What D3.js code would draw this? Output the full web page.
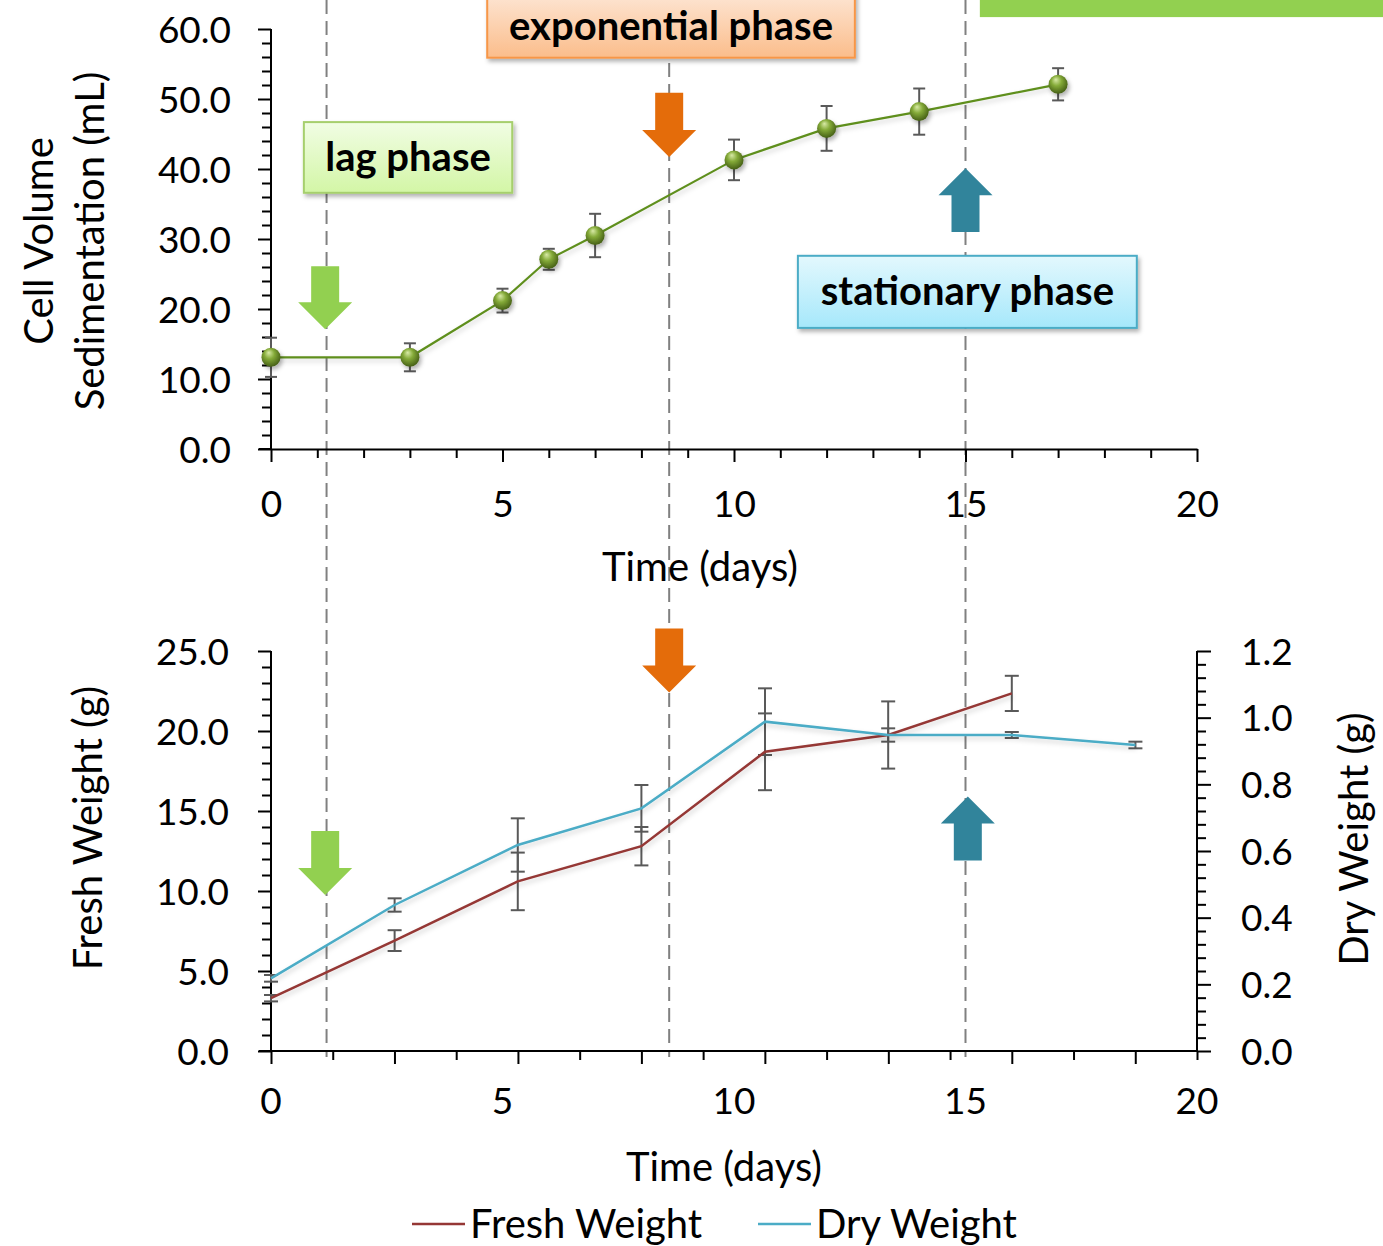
<!DOCTYPE html>
<html>
<head>
<meta charset="utf-8">
<script src="https://cdn.jsdelivr.net/npm/d3@7"></script>
<style>
  body { margin: 0; background: #fff; }
  svg text { font-family: Lato, "Open Sans", sans-serif; fill: #000; }
</style>
</head>
<body>
<div id="chart"></div>
<script>
// ---- data ----
// top panel: cell volume sedimentation
const cvsDays = [0, 3, 5, 6, 7, 10, 12, 14, 17];
const cvsMean = [13.1, 13.1, 21.2, 27.1, 30.5, 41.3, 45.8, 48.2, 52.1];
const cvsErr  = [2.8, 2.0, 1.7, 1.5, 3.1, 2.9, 3.2, 3.3, 2.3];

// bottom panel: fresh / dry weight
const weightDays = [0, 2.67, 5.33, 8, 10.67, 13.33, 16, 18.67];
const freshMean = [3.3, 6.9, 10.6, 12.8, 18.7, 19.75, 22.35];
const freshErr  = [0.2, 0.65, 1.8, 1.2, 2.4, 2.1, 1.1];
const dryMean = [0.218, 0.438, 0.618, 0.728, 0.988, 0.948, 0.948, 0.918];
const dryErr  = [0.01, 0.02, 0.08, 0.07, 0.1, 0.02, 0.009, 0.01];

const xTickLabels = [0, 5, 10, 15, 20];
const phaseBounds = [1.2, 8.6, 15.0];

// ---- layout ----
const W = 1383, H = 1246;
const tickFont = 37, titleFont = 40;
const svg = d3.select("#chart").append("svg")
  .attr("width", W).attr("height", H);

const defs = svg.append("defs");
const shadow = defs.append("filter").attr("id", "shadow")
  .attr("x", "-20%").attr("y", "-20%").attr("width", "150%").attr("height", "160%");
shadow.append("feDropShadow").attr("dx", 2).attr("dy", 3)
  .attr("stdDeviation", 2).attr("flood-color", "#000").attr("flood-opacity", 0.3);
const lineShadow = defs.append("filter").attr("id", "lineShadow")
  .attr("x", "-10%").attr("y", "-30%").attr("width", "120%").attr("height", "160%");
lineShadow.append("feDropShadow").attr("dx", 1).attr("dy", 3)
  .attr("stdDeviation", 2.5).attr("flood-color", "#000").attr("flood-opacity", 0.18);

const ball = defs.append("radialGradient").attr("id", "ball")
  .attr("cx", "45%").attr("cy", "40%").attr("r", "60%").attr("fx", "38%").attr("fy", "25%");
ball.append("stop").attr("offset", "0%").attr("stop-color", "#d8eaa6");
ball.append("stop").attr("offset", "45%").attr("stop-color", "#84aa38");
ball.append("stop").attr("offset", "100%").attr("stop-color", "#455f16");

function vgrad(id, top, bottom) {
  const g = defs.append("linearGradient").attr("id", id)
    .attr("x1", 0).attr("y1", 0).attr("x2", 0).attr("y2", 1);
  g.append("stop").attr("offset", "0%").attr("stop-color", top);
  g.append("stop").attr("offset", "100%").attr("stop-color", bottom);
}
vgrad("gLag", "#f1fde4", "#d3f6a6");
vgrad("gExp", "#fde9da", "#fbbd8b");
vgrad("gSta", "#e3f8fd", "#a6e8fb");

// scales
const x = d3.scaleLinear().domain([0, 20]).range([271, 1197]);
const yTop = d3.scaleLinear().domain([0, 60]).range([449, 29]);
const yFresh = d3.scaleLinear().domain([0, 25]).range([1051, 651]);
const yDry = d3.scaleLinear().domain([0, 1.2]).range([1051, 651]);

const fmt1 = d3.format(".1f");

// ---- phase separator lines (span both panels) ----
svg.append("g").selectAll("line")
  .data(phaseBounds)
  .join("line")
    .attr("x1", d => x(d)).attr("x2", d => x(d))
    .attr("y1", 0).attr("y2", 1057)
    .attr("stroke", "#808080").attr("stroke-width", 2)
    .attr("stroke-dasharray", "14,7");

// ---- axes helpers ----
function styleAxis(g) {
  g.selectAll("path.domain").attr("stroke", "#000").attr("stroke-width", 2);
  g.selectAll(".tick line").attr("stroke", "#000").attr("stroke-width", 2);
  g.selectAll(".tick text").attr("font-size", tickFont).attr("font-family", "Lato");
}

// top x axis
const topX = svg.append("g").attr("transform", `translate(0,${yTop(0)})`)
  .call(d3.axisBottom(x).tickValues(d3.range(0, 21)).tickSizeOuter(0)
    .tickFormat(d => d % 5 === 0 ? d : ""));
styleAxis(topX);
topX.selectAll(".tick line").attr("y2", d => d % 5 === 0 ? 13 : 9);
topX.selectAll(".tick text").attr("y", 68).attr("dy", null);

// top y axis
const topY = svg.append("g").attr("transform", `translate(${x(0)},0)`)
  .call(d3.axisLeft(yTop).tickValues(d3.range(0, 61, 2)).tickSizeOuter(0)
    .tickFormat(d => d % 10 === 0 ? fmt1(d) : ""));
styleAxis(topY);
topY.selectAll(".tick line").attr("x2", d => d % 10 === 0 ? -13 : -9);
topY.selectAll(".tick text").attr("x", -40).attr("dy", "0.36em");
topY.select("path.domain").attr("d", `M0,${yTop(60)}V${yTop(0)}H-12`);

// bottom x axis: ticks every 4/3 day, labels at 0,5,...,20
const botTicks = d3.range(0, 16).map(i => i * 4 / 3);
const botX = svg.append("g").attr("transform", `translate(0,${yFresh(0)})`)
  .call(d3.axisBottom(x).tickValues(botTicks).tickSizeOuter(0).tickFormat(""));
styleAxis(botX);
botX.selectAll(".tick line").attr("y2", (d, i) => i % 2 === 0 ? 13 : 9);
botX.select("path.domain").attr("d", `M${x(0)},0H${x(20)}`);
svg.append("g").selectAll("text")
  .data(xTickLabels)
  .join("text")
    .attr("x", d => x(d))
    .attr("y", yFresh(0) + 63)
    .attr("text-anchor", "middle")
    .attr("font-size", tickFont)
    .text(d => d);

// bottom left y axis
const botY = svg.append("g").attr("transform", `translate(${x(0)},0)`)
  .call(d3.axisLeft(yFresh).tickValues(d3.range(0, 26, 1)).tickSizeOuter(0)
    .tickFormat(d => d % 5 === 0 ? fmt1(d) : ""));
styleAxis(botY);
botY.selectAll(".tick line").attr("x2", d => d % 5 === 0 ? -13 : -9);
botY.selectAll(".tick text").attr("x", -42).attr("dy", "0.36em");
botY.select("path.domain").attr("d", `M0,${yFresh(25)}V${yFresh(0)}H-12`);

// bottom right y axis
const dryTicks = d3.range(0, 31).map(i => i * 0.04);
const botY2 = svg.append("g").attr("transform", `translate(${x(20)},0)`)
  .call(d3.axisRight(yDry).tickValues(dryTicks).tickSizeOuter(0)
    .tickFormat((d, i) => i % 5 === 0 ? fmt1(d) : ""));
styleAxis(botY2);
botY2.selectAll(".tick line").attr("x2", (d, i) => i % 5 === 0 ? 14 : 9);
botY2.selectAll(".tick text").attr("x", 44).attr("dy", "0.36em");
botY2.select("path.domain").attr("d", `M0,${yDry(1.2)}V${yDry(0)}`);

// ---- axis titles ----
svg.append("text").attr("x", 700).attr("y", 581).attr("text-anchor", "middle")
  .attr("font-size", titleFont).text("Time (days)");
svg.append("text").attr("x", 724).attr("y", 1181).attr("text-anchor", "middle")
  .attr("font-size", titleFont).text("Time (days)");
svg.append("text").attr("transform", "translate(53,241) rotate(-90)")
  .attr("text-anchor", "middle").attr("font-size", titleFont).text("Cell Volume");
svg.append("text").attr("transform", "translate(104,241) rotate(-90)")
  .attr("text-anchor", "middle").attr("font-size", titleFont).text("Sedimentation (mL)");
svg.append("text").attr("transform", "translate(102,828) rotate(-90)")
  .attr("text-anchor", "middle").attr("font-size", titleFont).text("Fresh Weight (g)");
svg.append("text").attr("transform", "translate(1368,839) rotate(-90)")
  .attr("text-anchor", "middle").attr("font-size", titleFont).text("Dry Weight (g)");

// ---- top panel series ----
const cvs = cvsDays.map((d, i) => ({ day: d, v: cvsMean[i], e: cvsErr[i] }));
const errColor = "#595959";

svg.append("path").datum(cvs)
  .attr("d", d3.line().x(d => x(d.day)).y(d => yTop(d.v)))
  .attr("fill", "none").attr("stroke", "#5f8f1e").attr("stroke-width", 2.2)
  .attr("filter", "url(#lineShadow)");

function errorBars(data, xs, ys, cap) {
  const g = svg.append("g").attr("stroke", errColor).attr("stroke-width", 2);
  g.selectAll("line.v").data(data).join("line").attr("class", "v")
    .attr("x1", d => xs(d.day)).attr("x2", d => xs(d.day))
    .attr("y1", d => ys(d.v + d.e)).attr("y2", d => ys(d.v - d.e));
  g.selectAll("line.t").data(data).join("line").attr("class", "t")
    .attr("x1", d => xs(d.day) - cap).attr("x2", d => xs(d.day) + cap)
    .attr("y1", d => ys(d.v + d.e)).attr("y2", d => ys(d.v + d.e));
  g.selectAll("line.b").data(data).join("line").attr("class", "b")
    .attr("x1", d => xs(d.day) - cap).attr("x2", d => xs(d.day) + cap)
    .attr("y1", d => ys(d.v - d.e)).attr("y2", d => ys(d.v - d.e));
}
errorBars(cvs, x, yTop, 6);

svg.append("g").selectAll("circle").data(cvs).join("circle")
  .attr("cx", d => x(d.day)).attr("cy", d => yTop(d.v)).attr("r", 9.5)
  .attr("fill", "url(#ball)").attr("filter", "url(#shadow)");

// ---- bottom panel series ----
const fresh = freshMean.map((v, i) => ({ day: weightDays[i], v: v, e: freshErr[i] }));
const dry = dryMean.map((v, i) => ({ day: weightDays[i], v: v, e: dryErr[i] }));

errorBars(fresh, x, yFresh, 7);
errorBars(dry, x, yDry, 7);

svg.append("path").datum(fresh)
  .attr("d", d3.line().x(d => x(d.day)).y(d => yFresh(d.v)))
  .attr("fill", "none").attr("stroke", "#953735").attr("stroke-width", 2.5)
  .attr("filter", "url(#lineShadow)");
svg.append("path").datum(dry)
  .attr("d", d3.line().x(d => x(d.day)).y(d => yDry(d.v)))
  .attr("fill", "none").attr("stroke", "#4bacc6").attr("stroke-width", 2.5)
  .attr("filter", "url(#lineShadow)");

// ---- arrows (positions in days / panel units) ----
const arrowDays   = [1.17, 8.6, 15.0, 1.17, 8.6, 15.05];
const arrowFrom   = [26.1, 50.9, 31.0, 13.75, 26.4, 11.9];
const arrowTo     = [17.1, 41.7, 40.1, 9.75, 22.4, 15.9];
const arrowPanel  = ["top", "top", "top", "bottom", "bottom", "bottom"];
const arrowColors = ["#92d050", "#e46c0a", "#31849b", "#92d050", "#e46c0a", "#31849b"];

function arrowPath(cx, y0, y1) {
  const dir = y1 > y0 ? 1 : -1;
  const len = Math.abs(y1 - y0), head = 27, sw = 14, hw = 27;
  const yh = y0 + dir * (len - head);
  return `M${cx - sw},${y0}H${cx + sw}V${yh}H${cx + hw}L${cx},${y1}L${cx - hw},${yh}H${cx - sw}Z`;
}
svg.append("g").selectAll("path")
  .data(arrowDays)
  .join("path")
    .attr("d", (d, i) => {
      const ys = arrowPanel[i] === "top" ? yTop : yFresh;
      return arrowPath(x(d), ys(arrowFrom[i]), ys(arrowTo[i]));
    })
    .attr("fill", (d, i) => arrowColors[i]);

// ---- phase labels ----
const boxLabels = ["lag phase", "exponential phase", "stationary phase"];
const boxX0 = [0.71, 4.67, 11.38];
const boxX1 = [5.21, 12.61, 18.70];
const boxTop = [46.7, 65.9, 27.6];
const boxBot = [36.6, 55.9, 17.3];
const boxFill = ["url(#gLag)", "url(#gExp)", "url(#gSta)"];
const boxStroke = ["#a6cf6d", "#f79646", "#4bacc6"];
const boxDy = ["0.34em", "0.44em", "0.34em"]; // top box is cut by the frame

const boxes = svg.append("g").selectAll("g").data(boxLabels).join("g");
boxes.append("rect")
  .attr("x", (d, i) => x(boxX0[i]))
  .attr("y", (d, i) => yTop(boxTop[i]))
  .attr("width", (d, i) => x(boxX1[i]) - x(boxX0[i]))
  .attr("height", (d, i) => yTop(boxBot[i]) - yTop(boxTop[i]))
  .attr("fill", (d, i) => boxFill[i])
  .attr("stroke", (d, i) => boxStroke[i]).attr("stroke-width", 2)
  .attr("filter", "url(#shadow)");
boxes.append("text")
  .attr("x", (d, i) => (x(boxX0[i]) + x(boxX1[i])) / 2)
  .attr("y", (d, i) => (yTop(boxTop[i]) + yTop(boxBot[i])) / 2)
  .attr("dy", (d, i) => boxDy[i])
  .attr("text-anchor", "middle")
  .attr("font-size", 40).attr("font-weight", "bold")
  .text(d => d);

// green band at top right
svg.append("rect")
  .attr("x", x(15.31)).attr("y", yTop(64.5))
  .attr("width", W - x(15.31)).attr("height", yTop(61.7) - yTop(64.5))
  .attr("fill", "#92d050");

// ---- legend ----
const legendNames = ["Fresh Weight", "Dry Weight"];
const legendColors = ["#953735", "#4bacc6"];
const legendX = [412, 758];
const leg = svg.append("g").selectAll("g").data(legendNames).join("g")
  .attr("transform", (d, i) => `translate(${legendX[i]},1224)`);
leg.append("line").attr("x1", 0).attr("x2", 53).attr("y1", 0).attr("y2", 0)
  .attr("stroke", (d, i) => legendColors[i]).attr("stroke-width", 2.5);
leg.append("text").attr("x", 58).attr("dy", "0.36em").attr("font-size", titleFont).text(d => d);
</script>
</body>
</html>
